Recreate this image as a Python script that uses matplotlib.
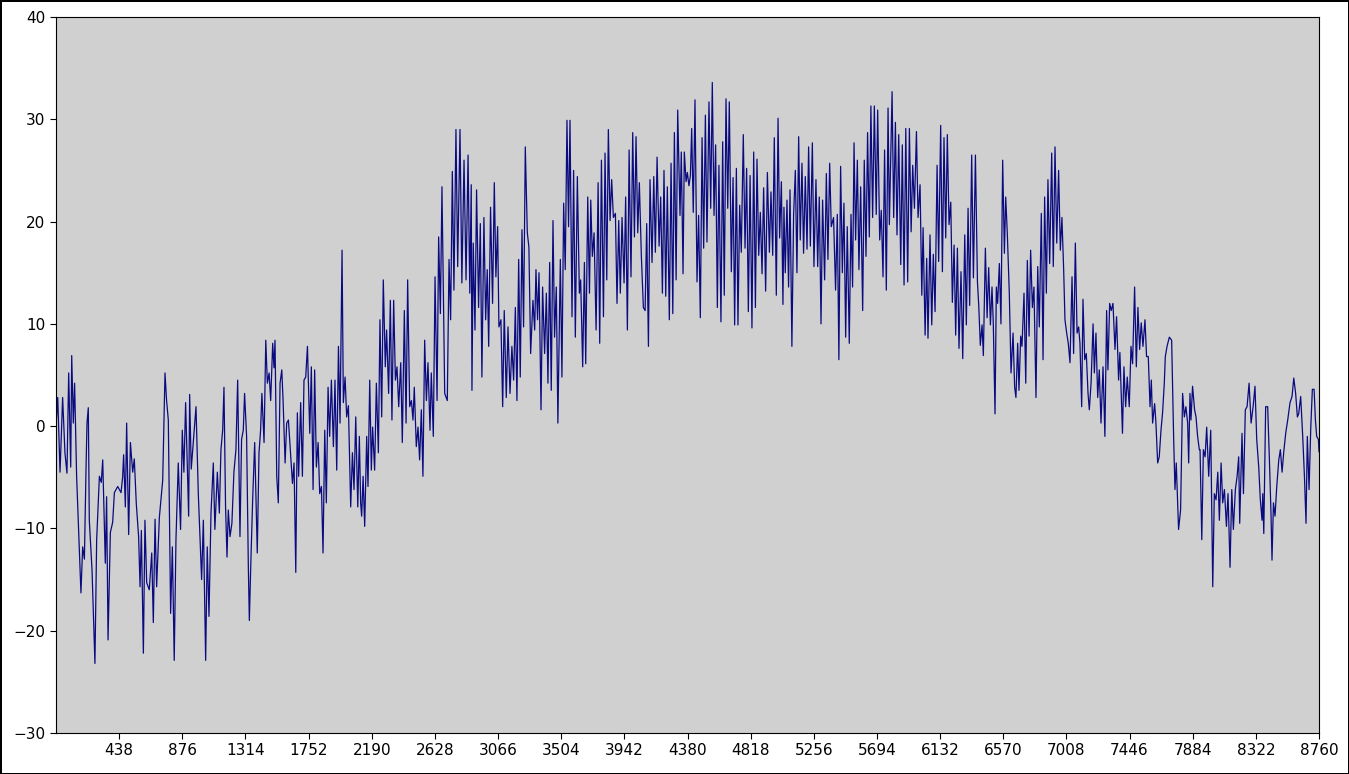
import numpy as np
import matplotlib
matplotlib.use('Agg')
import matplotlib.pyplot as plt

# hourly temperature trace (hour of year, value)
jan_hours = [0, 12, 28, 46, 62, 76, 88, 102, 109, 120, 129, 143, 173, 185, 197, 208, 215, 224, 231, 250,
             270, 282, 301, 314, 324, 342, 351, 361, 377, 393, 405, 428, 451, 462, 469, 481, 490, 504, 516, 532,
             543, 557, 573, 583, 592, 606, 617, 629, 647, 664, 675, 687, 698, 717]
jan_temps = [0, 2.8, -4.5, 2.8, -2.6, -4.6, 5.2, -4.0, 6.9, 0.3, 4.2, -4.9, -16.3, -11.8, -13.0, -4.3, 0.3, 1.8, -9.2, -14.1,
             -23.2, -11.1, -4.9, -5.5, -3.3, -13.4, -6.9, -20.9, -10.4, -9.4, -6.5, -5.9, -6.5, -5.0, -2.8, -7.9, 0.3, -10.6, -1.6, -4.5,
             -3.2, -7.6, -10.8, -15.7, -10.2, -22.2, -9.2, -15.3, -16.0, -12.4, -19.2, -9.1, -15.7, -8.9]

feb_hours = [740, 756, 767, 779, 795, 807, 820, 832, 848, 864, 876, 887, 899, 911, 920, 927, 938, 952, 971, 987,
             1010, 1022, 1038, 1049, 1061, 1075, 1091, 1102, 1119, 1133, 1144, 1156, 1165, 1176, 1186, 1195, 1207, 1220, 1234, 1248,
             1260, 1276, 1287, 1299, 1308, 1322, 1334, 1341, 1352, 1364, 1378, 1396, 1408, 1419, 1428]
feb_temps = [-5.3, 5.2, 2.5, 0.6, -18.3, -11.8, -22.9, -11.1, -3.6, -10.1, -0.4, -4.5, 2.3, -4.2, -8.8, 3.1, -4.2, -1.6, 1.9, -6.6,
             -15.0, -9.2, -22.9, -11.8, -18.6, -8.5, -3.6, -10.1, -4.5, -8.5, -2.3, -0.4, 3.8, -7.9, -12.8, -8.2, -10.8, -9.5, -4.5, -2.3,
             4.5, -10.8, -1.3, -0.4, 3.2, -1.0, -13.7, -19.0, -13.0, -7.2, -1.6, -12.4, -2.6, -0.4, 3.2]

mar_hours = [1443, 1455, 1466, 1478, 1489, 1503, 1512, 1519, 1531, 1542, 1554, 1566, 1575, 1589, 1600, 1612, 1628, 1640, 1651, 1663,
             1674, 1683, 1697, 1709, 1720, 1732, 1744, 1760, 1771, 1783, 1794, 1806, 1818, 1829, 1841, 1852, 1864, 1875, 1887, 1898,
             1910, 1924, 1935, 1947, 1959, 1970, 1984, 1993, 2005, 2016, 2028, 2044, 2056, 2067, 2079, 2093, 2104, 2113, 2120, 2130,
             2141, 2155]
mar_temps = [-1.6, 8.4, 4.2, 5.2, 2.5, 8.1, 5.7, 8.4, -4.9, -7.5, 4.2, 5.5, 2.5, -3.6, 0.3, 0.6, -3.0, -5.6, -3.6, -14.3,
             1.3, -4.9, 2.3, -4.9, 4.5, 4.8, 7.8, -0.7, 5.8, -6.2, 5.5, -4.0, -1.6, -6.6, -5.9, -12.4, -0.4, -7.5, 3.8, -1.0,
             4.5, -2.0, 4.5, -4.3, 7.8, 0.3, 17.2, 2.3, 4.8, 0.9, 2.0, -7.9, -2.6, -6.2, 0.9, -7.9, -1.0, -7.5, -8.8, -4.9,
             -9.8, -1.0]

apr_hours = [2164, 2176, 2187, 2196, 2210, 2222, 2236, 2247, 2259, 2270, 2284, 2293, 2307, 2319, 2330, 2342, 2354, 2365, 2377, 2391,
             2402, 2416, 2428, 2439, 2453, 2465, 2476, 2485, 2499, 2511, 2522, 2534, 2545, 2557, 2569, 2580, 2594, 2603, 2617, 2629,
             2643, 2654, 2666, 2677, 2696, 2714, 2726, 2737, 2749, 2760, 2774, 2786, 2802, 2815, 2830, 2844, 2858, 2870, 2880]
apr_temps = [-5.9, 4.5, -4.3, -0.1, -4.3, 4.2, -2.6, 10.4, 0.9, 14.3, 5.8, 9.4, 3.2, 12.3, 0.6, 12.3, 4.5, 5.8, 1.9, 6.2,
             -1.6, 11.3, 0.3, 14.3, 1.9, 2.5, 0.6, 3.8, -2.0, -0.1, -3.3, 1.6, -4.9, 8.4, 2.5, 6.2, -0.4, 5.2, -1.0, 14.6,
             2.5, 18.5, 11.0, 23.4, 3.2, 2.5, 16.3, 10.4, 24.9, 13.3, 29.0, 15.6, 29.0, 14.0, 26.0, 14.3, 26.5, 13.0, 23.6]

may_hours = [2885, 2894, 2906, 2917, 2931, 2943, 2954, 2968, 2980, 2991, 3001, 3014, 3028, 3040, 3051, 3063, 3072, 3086, 3098, 3109,
             3123, 3135, 3149, 3162, 3174, 3186, 3197, 3209, 3220, 3232, 3243, 3255, 3269, 3280, 3292, 3308, 3320, 3329, 3340, 3350,
             3364, 3375, 3389, 3401, 3412, 3424, 3435, 3447, 3458, 3470, 3481, 3498, 3509, 3521, 3532, 3544, 3555, 3565, 3579, 3590,
             3602, 3616]
may_temps = [3.5, 17.9, 9.4, 23.1, 11.6, 19.8, 4.8, 20.4, 10.4, 15.3, 7.8, 21.4, 12.0, 23.8, 14.6, 19.5, 9.7, 10.4, 1.9, 11.3,
             2.8, 9.7, 3.2, 7.8, 4.5, 11.6, 2.5, 16.3, 4.8, 19.2, 9.7, 27.3, 18.9, 17.5, 7.1, 12.3, 9.4, 15.3, 10.4, 15.0,
             1.6, 13.6, 7.1, 13.0, 4.2, 16.0, 3.5, 20.1, 8.7, 13.6, 0.3, 16.3, 4.8, 21.8, 15.3, 29.9, 19.5, 29.9, 10.7, 25.0,
             8.7, 24.4]

jun_hours = [3630, 3639, 3653, 3665, 3674, 3688, 3700, 3709, 3720, 3732, 3746, 3760, 3771, 3783, 3797, 3808, 3820, 3831, 3843, 3854,
             3866, 3880, 3891, 3903, 3914, 3926, 3940, 3951, 3963, 3975, 3988, 4000, 4012, 4023, 4035, 4046, 4060, 4074, 4086, 4097,
             4109, 4120, 4134, 4146, 4157, 4169, 4183, 4194, 4206, 4217, 4229, 4240, 4254, 4266, 4278, 4289, 4301, 4312]
jun_temps = [13.0, 14.3, 5.8, 16.0, 6.1, 22.4, 13.0, 22.1, 16.6, 18.9, 9.4, 23.8, 8.1, 26.0, 10.7, 26.7, 14.3, 29.0, 20.1, 24.1,
             20.4, 20.8, 12.0, 20.1, 13.0, 20.4, 14.0, 22.4, 9.4, 27.0, 14.6, 28.7, 18.5, 28.3, 18.9, 23.8, 16.6, 11.6, 11.3, 19.8,
             7.8, 24.1, 16.0, 24.4, 17.0, 26.3, 17.6, 22.4, 13.0, 25.0, 12.7, 23.4, 10.4, 25.7, 11.0, 28.7, 14.3, 30.9]

jul_hours = [4328, 4337, 4349, 4358, 4370, 4379, 4390, 4400, 4409, 4420, 4432, 4446, 4457, 4469, 4481, 4492, 4504, 4515, 4529, 4541,
             4552, 4564, 4575, 4587, 4598, 4612, 4624, 4635, 4647, 4659, 4670, 4684, 4696, 4707, 4719, 4730, 4742, 4753, 4767, 4779,
             4790, 4802, 4814, 4827, 4839, 4851, 4862, 4874, 4885, 4897, 4908, 4922, 4934, 4948, 4959, 4971, 4982, 4996, 5008, 5019,
             5031, 5042]
jul_temps = [20.6, 26.8, 14.9, 26.8, 23.9, 24.8, 23.5, 24.5, 29.1, 20.9, 31.9, 14.1, 20.6, 10.6, 28.2, 17.4, 30.4, 18.0, 31.7, 21.3,
             33.6, 20.6, 27.5, 11.6, 25.5, 10.2, 27.8, 12.8, 32.0, 21.3, 31.7, 15.1, 24.3, 9.9, 25.2, 9.9, 21.6, 17.0, 28.5, 17.4,
             25.2, 11.2, 24.5, 9.6, 26.8, 11.6, 26.1, 16.7, 20.9, 14.9, 23.3, 13.2, 24.8, 17.0, 22.9, 16.7, 28.2, 12.8, 30.1, 18.4,
             23.9, 11.9]

aug_hours = [5049, 5058, 5070, 5081, 5091, 5104, 5116, 5128, 5139, 5151, 5162, 5174, 5185, 5197, 5209, 5220, 5232, 5246, 5257, 5271,
             5283, 5294, 5306, 5317, 5331, 5343, 5354, 5366, 5377, 5393, 5407, 5419, 5430, 5442, 5454, 5465, 5477, 5488, 5502, 5514,
             5525, 5535, 5546, 5558, 5569, 5581, 5595, 5606, 5618, 5629, 5641, 5652, 5664, 5676, 5689, 5699, 5713, 5724, 5736, 5747,
             5759]
aug_temps = [21.4, 15.0, 22.1, 13.6, 23.1, 7.8, 20.7, 25.0, 15.0, 28.3, 18.2, 25.7, 16.9, 24.4, 17.3, 27.3, 17.6, 27.7, 15.6, 24.1,
             15.6, 22.4, 10.0, 22.1, 14.3, 24.7, 16.3, 25.7, 19.5, 20.4, 13.3, 20.7, 6.5, 25.4, 15.0, 21.8, 8.7, 19.5, 8.1, 20.7,
             13.6, 27.7, 18.2, 26.0, 15.3, 23.4, 11.3, 26.0, 16.6, 28.7, 18.5, 31.3, 20.4, 31.3, 20.7, 30.9, 18.2, 21.1, 14.6, 27.0,
             13.3]

sep_hours = [5771, 5780, 5799, 5810, 5822, 5833, 5845, 5859, 5870, 5882, 5894, 5907, 5919, 5931, 5942, 5954, 5968, 5979, 5993, 6005,
             6014, 6028, 6039, 6048, 6062, 6074, 6085, 6097, 6111, 6122, 6136, 6148, 6159, 6171, 6182, 6194, 6206, 6217, 6229, 6240,
             6252, 6263, 6277, 6289, 6303, 6314, 6326, 6337, 6351, 6363, 6377, 6391, 6400, 6411, 6423, 6432, 6446, 6458, 6469, 6481]
sep_temps = [31.1, 19.7, 32.7, 20.4, 29.7, 18.7, 28.5, 15.8, 27.5, 13.8, 29.1, 14.1, 29.1, 19.0, 25.5, 21.3, 28.8, 20.4, 23.6, 12.8,
             19.4, 8.9, 16.4, 8.6, 18.7, 9.9, 16.8, 11.2, 25.5, 16.1, 29.4, 15.1, 28.2, 18.4, 28.5, 19.7, 21.9, 12.1, 17.7, 8.9,
             17.4, 7.6, 15.1, 6.6, 18.7, 9.9, 21.3, 11.8, 26.5, 14.5, 26.5, 14.1, 11.8, 7.9, 9.9, 6.9, 17.4, 10.6, 15.5, 9.9]

oct_hours = [6492, 6501, 6513, 6522, 6531, 6543, 6554, 6566, 6578, 6587, 6598, 6612, 6624, 6638, 6649, 6658, 6670, 6679, 6691, 6700,
             6714, 6726, 6737, 6749, 6760, 6772, 6783, 6797, 6809, 6820, 6834, 6846, 6857, 6869, 6880, 6892, 6906, 6917, 6929, 6941,
             6954, 6966, 6977, 6989, 6998, 7010, 7021, 7033, 7047, 7058, 7070, 7082, 7093, 7102, 7114, 7123, 7135, 7146, 7158, 7167,
             7179, 7193, 7202]
oct_temps = [13.6, 10.0, 1.2, 13.6, 12.0, 15.9, 10.0, 26.0, 16.9, 22.4, 18.9, 13.0, 5.2, 9.1, 3.8, 2.8, 8.1, 3.5, 8.8, 7.8,
             13.0, 4.2, 16.2, 8.8, 17.2, 11.6, 13.6, 2.8, 15.6, 9.7, 20.8, 6.5, 22.4, 13.0, 24.1, 15.9, 26.7, 15.6, 27.3, 17.9,
             25.0, 17.2, 20.4, 15.3, 10.4, 9.1, 8.1, 6.2, 14.6, 7.1, 17.9, 9.1, 9.7, 8.1, 1.9, 12.4, 6.5, 7.1, 3.2, 1.6,
             4.2, 10.0, 5.2]

nov_hours = [7213, 7225, 7236, 7248, 7262, 7275, 7287, 7296, 7308, 7319, 7331, 7345, 7356, 7370, 7379, 7397, 7407, 7419, 7430, 7444,
             7456, 7467, 7481, 7493, 7504, 7516, 7527, 7539, 7553, 7564, 7576, 7588, 7597, 7606, 7620, 7629, 7641, 7652, 7664, 7675,
             7687, 7694, 7706, 7722, 7738, 7752, 7761, 7770, 7786, 7800, 7814, 7826, 7837, 7849, 7856, 7865, 7872, 7883, 7897, 7907,
             7918, 7930]
nov_temps = [9.1, 2.8, 5.5, 0.3, 5.8, -1.0, 11.3, 5.5, 12.0, 11.3, 12.0, 7.5, 10.7, 4.5, 7.2, -0.7, 5.8, 1.9, 4.8, 1.9,
             7.8, 6.1, 13.6, 5.8, 11.6, 7.5, 10.1, 7.8, 10.4, 6.8, 6.8, 1.9, 4.5, 0.3, 2.2, 0.3, -3.6, -3.0, -0.4, 1.3,
             4.2, 6.8, 7.8, 8.7, 8.4, -1.3, -6.2, -3.6, -10.1, -8.2, 3.2, 0.9, 1.9, 0.3, -3.6, 3.2, 0.6, 3.9, 1.6, 0.9,
             -1.0, -2.3]

dec_hours = [7935, 7947, 7958, 7970, 7981, 7995, 8009, 8023, 8034, 8046, 8058, 8069, 8081, 8092, 8104, 8118, 8129, 8143, 8155, 8166,
             8180, 8192, 8203, 8210, 8226, 8236, 8249, 8261, 8275, 8289, 8303, 8316, 8328, 8342, 8353, 8365, 8370, 8377, 8390, 8404,
             8416, 8427, 8434, 8444, 8455, 8467, 8481, 8492, 8504, 8515, 8529, 8543, 8559, 8573, 8585, 8598, 8610, 8619, 8633, 8647,
             8659, 8670, 8679, 8691, 8703, 8714, 8726, 8735, 8744, 8756, 8760]
dec_temps = [-2.3, -11.1, -2.3, -3.0, -0.1, -4.9, -0.4, -15.7, -6.6, -7.2, -4.5, -9.2, -3.6, -7.5, -6.2, -9.8, -6.6, -13.8, -6.2, -10.1,
             -6.2, -4.9, -3.0, -9.5, -0.7, -6.6, 1.6, 1.9, 4.2, 0.3, 1.9, 3.9, -1.3, -4.0, -7.2, -9.2, -6.6, -10.5, 1.9, 1.9,
             -3.3, -8.5, -13.1, -7.5, -8.8, -5.9, -3.3, -2.3, -4.5, -2.6, -0.7, 0.6, 2.3, 2.9, 4.7, 3.2, 0.9, 1.2, 2.9, -1.0,
             -4.9, -9.5, -1.0, -6.2, -0.1, 3.6, 3.6, 0.6, -1.0, -1.3, -2.5]

x_ticks = list(range(438, 8761, 438))
y_ticks = list(range(-30, 41, 10))

hours = np.concatenate([jan_hours, feb_hours, mar_hours, apr_hours, may_hours, jun_hours,
                        jul_hours, aug_hours, sep_hours, oct_hours, nov_hours, dec_hours])
temps = np.concatenate([jan_temps, feb_temps, mar_temps, apr_temps, may_temps, jun_temps,
                        jul_temps, aug_temps, sep_temps, oct_temps, nov_temps, dec_temps])

fig = plt.figure(figsize=(13.49, 7.74), dpi=100)
fig.patch.set_facecolor('white')
fig.patch.set_edgecolor('black')
fig.patch.set_linewidth(2)
ax = fig.add_axes([56 / 1349, 1 - 733 / 774, 1263 / 1349, 716 / 774])
ax.set_facecolor('#d0d0d0')
ax.plot(hours, temps, color='#0b0b80', linewidth=0.9)

ax.set_xlim(0, 8760)
ax.set_ylim(-30, 40)
ax.set_xticks(x_ticks)
ax.set_yticks(y_ticks)
ax.tick_params(labelsize=11, length=4)

fig.savefig('out.png', dpi=100, edgecolor='black')
plt.close()
